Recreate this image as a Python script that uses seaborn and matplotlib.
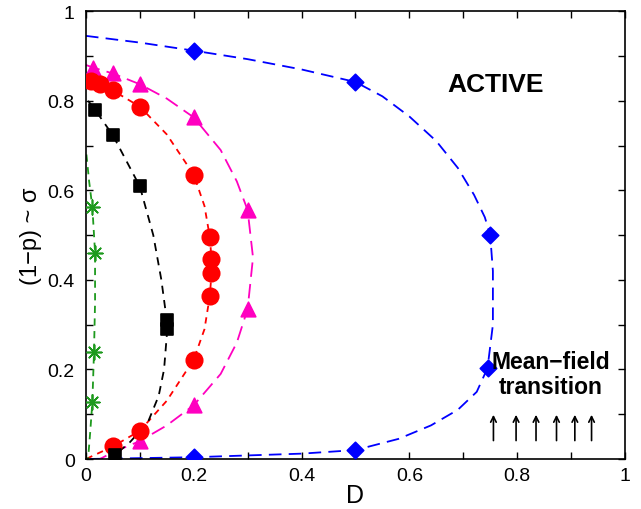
#!/usr/bin/env python3
# Phase diagram: (1-p) ~ sigma vs D, several dashed boundaries with markers

import numpy as np
import pandas as pd
import matplotlib
matplotlib.use('Agg')
import matplotlib.pyplot as plt
from matplotlib.ticker import MultipleLocator
import seaborn as sns

sns.set_style('ticks')
plt.rcParams['font.family'] = ['Liberation Sans', 'DejaVu Sans']
plt.rcParams['text.color'] = 'black'
plt.rcParams['axes.labelcolor'] = 'black'
plt.rcParams['xtick.color'] = 'black'
plt.rcParams['ytick.color'] = 'black'
plt.rcParams['axes.edgecolor'] = 'black'

# Marker data
blue_x = [0.2, 0.5, 0.75, 0.745, 0.5, 0.2]
blue_y = [0.912, 0.842, 0.50, 0.203, 0.020, 0.004]

red_x = [0.010, 0.026, 0.05, 0.10, 0.20, 0.23, 0.233, 0.233, 0.23, 0.20, 0.10, 0.05]
red_y = [0.845, 0.837, 0.823, 0.787, 0.635, 0.495, 0.446, 0.415, 0.365, 0.222, 0.063, 0.028]

mag_x = [0.014, 0.05, 0.10, 0.20, 0.30, 0.30, 0.20, 0.10]
mag_y = [0.874, 0.861, 0.837, 0.763, 0.556, 0.335, 0.120, 0.040]

blk_x = [0.017, 0.05, 0.10, 0.15, 0.15, 0.054]
blk_y = [0.780, 0.723, 0.609, 0.310, 0.290, 0.009]

grn_x = [0.012, 0.017, 0.015, 0.012]
grn_y = [0.562, 0.461, 0.238, 0.127]

# Dashed guide curves
blue_cx = [0.0, 0.1, 0.2, 0.3, 0.4, 0.5, 0.55, 0.60, 0.65, 0.69, 0.72, 0.74, 0.75, 0.755, 0.755,
           0.745, 0.725, 0.69, 0.64, 0.58, 0.5, 0.4, 0.3, 0.2, 0.1, 0.0]
blue_cy = [0.945, 0.93, 0.912, 0.893, 0.870, 0.842, 0.81, 0.765, 0.71, 0.65, 0.59, 0.54, 0.50, 0.42, 0.30,
           0.203, 0.15, 0.11, 0.075, 0.045, 0.020, 0.012, 0.008, 0.004, 0.002, 0.0]

red_cx = [0.0, 0.010, 0.026, 0.05, 0.10, 0.15, 0.20, 0.22, 0.23, 0.233, 0.233, 0.23, 0.22, 0.20,
          0.15, 0.10, 0.05, 0.0]
red_cy = [0.85, 0.845, 0.837, 0.823, 0.787, 0.725, 0.635, 0.565, 0.495, 0.446, 0.415, 0.365, 0.29, 0.222,
          0.13, 0.063, 0.028, 0.0]

mag_cx = [0.0, 0.014, 0.05, 0.10, 0.15, 0.20, 0.25, 0.28, 0.30, 0.31, 0.30, 0.28, 0.25, 0.20,
          0.15, 0.10, 0.05, 0.026]
mag_cy = [0.88, 0.874, 0.861, 0.837, 0.805, 0.763, 0.69, 0.62, 0.556, 0.45, 0.335, 0.26, 0.19, 0.12,
          0.075, 0.040, 0.015, 0.0]

blk_cx = [0.004, 0.017, 0.05, 0.10, 0.125, 0.14, 0.15, 0.15, 0.145, 0.135, 0.115, 0.082, 0.054, 0.05]
blk_cy = [0.80, 0.780, 0.723, 0.609, 0.50, 0.40, 0.31, 0.275, 0.20, 0.141, 0.082, 0.038, 0.009, 0.0]

grn_cx = [0.001, 0.006, 0.012, 0.017, 0.017, 0.015, 0.012, 0.008, 0.004]
grn_cy = [0.68, 0.62, 0.562, 0.461, 0.35, 0.238, 0.127, 0.06, 0.0]

arrow_x = [0.756, 0.798, 0.835, 0.873, 0.907, 0.938]

fig = plt.figure(figsize=(6.41, 5.10), dpi=100)
ax = fig.add_axes([0.134, 0.098, 0.841, 0.878])

series = [
    (blue_cx, blue_cy, blue_x, blue_y, '#0000ff', (7, 4), 'D', 70),
    (mag_cx, mag_cy, mag_x, mag_y, '#ff00c0', (8, 4), '^', 110),
    (red_cx, red_cy, red_x, red_y, '#ff0000', (3.5, 3), 'o', 140),
    (blk_cx, blk_cy, blk_x, blk_y, '#000000', (4.5, 3.5), 's', 80),
    (grn_cx, grn_cy, grn_x, grn_y, '#1e9a1e', (4, 3), (8, 2, 0), 110),
]

for cx, cy, mx, my, col, dash, mk, sz in series:
    curve = pd.DataFrame({'x': cx, 'y': cy})
    sns.lineplot(data=curve, x='x', y='y', sort=False, estimator=None, errorbar=None,
                 color=col, lw=1.3, ax=ax)
    ax.lines[-1].set_dashes(dash)
    pts = pd.DataFrame({'x': mx, 'y': my})
    sns.scatterplot(data=pts, x='x', y='y', color=col, marker=mk, s=sz,
                    edgecolor=col if mk != (8, 2, 0) else None, linewidth=1.2, ax=ax, zorder=3)

for xa in arrow_x:
    ax.annotate('', xy=(xa, 0.105), xytext=(xa, 0.035),
                arrowprops=dict(arrowstyle='->', color='black', lw=1.2))

ax.text(0.76, 0.837, 'ACTIVE', fontsize=19, fontweight='bold', ha='center', va='center')
ax.text(0.862, 0.19, 'Mean\u2212field\ntransition', fontsize=16.5, fontweight='bold',
        ha='center', va='center', linespacing=1.1)

ax.set_xlim(0, 1)
ax.set_ylim(0, 1)
ax.xaxis.set_major_locator(MultipleLocator(0.2))
ax.yaxis.set_major_locator(MultipleLocator(0.2))
ax.xaxis.set_minor_locator(MultipleLocator(0.1))
ax.yaxis.set_minor_locator(MultipleLocator(0.1))
ax.xaxis.set_major_formatter(plt.FuncFormatter(lambda v, p: f'{v:g}'))
ax.yaxis.set_major_formatter(plt.FuncFormatter(lambda v, p: f'{v:g}'))
ax.tick_params(which='both', direction='in', top=True, right=True, length=5, width=1,
               labelsize=14)
ax.tick_params(axis='x', pad=6)
ax.tick_params(axis='y', pad=8)
for s in ax.spines.values():
    s.set_linewidth(1.2)

ax.set_xlabel('D', fontsize=18, labelpad=-1)
ax.set_ylabel('(1\u2212p) ~ \u03c3', fontsize=17, labelpad=4)

plt.savefig('out.png', dpi=100)
